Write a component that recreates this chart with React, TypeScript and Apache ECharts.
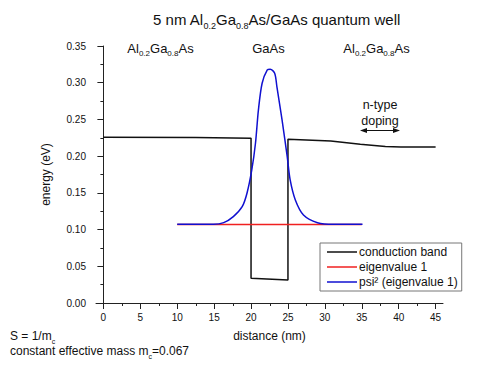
import React, { useEffect, useRef } from "react";
import * as echarts from "echarts";

// conduction band profile (distance nm, energy eV)
const bandX = [0, 12.5, 20, 20, 25, 25, 30.8, 34.8, 38.2, 40.3, 45];
const bandY = [0.2257, 0.2255, 0.2245, 0.0336, 0.0313, 0.223, 0.2207, 0.2162, 0.2132, 0.2125, 0.2125];

// eigenvalue 1
const eigenX = [10, 35];
const eigenY = [0.107, 0.107];

// psi^2 (eigenvalue 1), offset to eigenvalue
const psiX = [10, 14.9, 16.3, 17.6, 18.8, 19.45, 20.1, 20.6, 21.0, 21.5, 22.2, 22.6, 23.2, 23.5, 24.2, 24.9, 25.3, 26.0, 27.1, 29.0, 31.2, 35.1];
const psiY = [0.1072, 0.1072, 0.1094, 0.1176, 0.1312, 0.1495, 0.1812, 0.2176, 0.263, 0.2993, 0.3174, 0.3184, 0.313, 0.2947, 0.2493, 0.1993, 0.1676, 0.1403, 0.1199, 0.1094, 0.1072, 0.1072];

const xMajorTicks = [0, 5, 10, 15, 20, 25, 30, 35, 40, 45];
const xMinorTicks = [2.5, 7.5, 12.5, 17.5, 22.5, 27.5, 32.5, 37.5, 42.5];

const seriesNames = ["conduction band", "eigenvalue 1", "psi\u00b2 (eigenvalue 1)"];

const FONT = "Liberation Sans, Arial, sans-serif";

const zip = (xs: number[], ys: number[]) => xs.map((x, i) => [x, ys[i]]);

const subRich = (size: number, subSize: number, lh: number) => ({
  a: { fontSize: size, fontFamily: FONT, fill: "#111", lineHeight: lh },
  s: { fontSize: subSize, fontFamily: FONT, fill: "#111", verticalAlign: "bottom", lineHeight: lh },
});

export default function App() {
  const ref = useRef<HTMLDivElement>(null);
  useEffect(() => {
    if (!ref.current) return;
    const chart = echarts.init(ref.current, undefined, { renderer: "svg" });
    const staticGraphics: any[] = [
      {
        type: "text",
        x: 276.5,
        y: 19,
        style: {
          text: "{a|5 nm Al}{s|0.2}{a|Ga}{s|0.8}{a|As/GaAs quantum well}",
          rich: subRich(15, 9, 22),
          align: "center",
          verticalAlign: "middle",
        },
      },
      {
        type: "text",
        x: 160.5,
        y: 48,
        style: {
          text: "{a|Al}{s|0.2}{a|Ga}{s|0.8}{a|As}",
          rich: subRich(13, 8, 19),
          align: "center",
          verticalAlign: "middle",
        },
      },
      {
        type: "text",
        x: 268.5,
        y: 48,
        style: { text: "{a|GaAs}", rich: subRich(13, 8, 19), align: "center", verticalAlign: "middle" },
      },
      {
        type: "text",
        x: 376.5,
        y: 48,
        style: {
          text: "{a|Al}{s|0.2}{a|Ga}{s|0.8}{a|As}",
          rich: subRich(13, 8, 19),
          align: "center",
          verticalAlign: "middle",
        },
      },
      {
        type: "text",
        x: 380,
        y: 105,
        style: { text: "n-type", font: `12.5px ${FONT}`, fill: "#111", align: "center", verticalAlign: "middle" },
      },
      {
        type: "text",
        x: 380,
        y: 121,
        style: { text: "doping", font: `12.5px ${FONT}`, fill: "#111", align: "center", verticalAlign: "middle" },
      },
      { type: "line", shape: { x1: 363, y1: 130.5, x2: 397, y2: 130.5 }, style: { stroke: "#111", lineWidth: 1 } },
      { type: "polygon", shape: { points: [[360, 130.5], [367, 128], [367, 133]] }, style: { fill: "#111" } },
      { type: "polygon", shape: { points: [[400, 130.5], [393, 128], [393, 133]] }, style: { fill: "#111" } },
      {
        type: "text",
        x: 10,
        y: 336,
        style: { text: "{a|S = 1/m}{s|c}", rich: subRich(12, 7, 17), align: "left", verticalAlign: "middle" },
      },
      {
        type: "text",
        x: 10,
        y: 351,
        style: {
          text: "{a|constant effective mass m}{s|c}{a|=0.067}",
          rich: subRich(12, 7, 17),
          align: "left",
          verticalAlign: "middle",
        },
      },
    ];
    chart.setOption({
      animation: false,
      backgroundColor: "#fff",
      textStyle: { fontFamily: FONT },
      grid: { left: 96, right: 40, top: 46, bottom: 63, containLabel: false },
      xAxis: {
        type: "value",
        min: -1,
        max: 46,
        name: "distance (nm)",
        nameLocation: "middle",
        nameGap: 27,
        nameTextStyle: { fontSize: 12, color: "#111", fontFamily: FONT },
        axisLine: { show: true, onZero: false, lineStyle: { color: "#222", width: 1 } },
        axisTick: { show: true, length: 6, customValues: xMajorTicks, lineStyle: { color: "#222" } },
        axisLabel: { customValues: xMajorTicks, fontSize: 10, color: "#111", margin: 9, fontFamily: FONT },
        splitLine: { show: false },
      },
      yAxis: {
        type: "value",
        min: 0,
        max: 0.35,
        interval: 0.05,
        name: "energy (eV)",
        nameLocation: "middle",
        nameGap: 44,
        nameTextStyle: { fontSize: 12, color: "#111", fontFamily: FONT },
        axisLine: { show: true, lineStyle: { color: "#222", width: 1 } },
        axisTick: { show: true, length: 6, lineStyle: { color: "#222" } },
        minorTick: { show: true, splitNumber: 2, length: 3, lineStyle: { color: "#222" } },
        axisLabel: {
          fontSize: 10,
          color: "#111",
          margin: 10,
          fontFamily: FONT,
          formatter: (v: number) => v.toFixed(2),
        },
        splitLine: { show: false },
      },
      legend: {
        orient: "vertical",
        left: 320,
        top: 243,
        padding: [3, 4, 3, 7],
        itemGap: 3,
        itemWidth: 30,
        itemHeight: 12,
        borderColor: "#777",
        borderWidth: 1,
        textStyle: { fontSize: 12, color: "#111", fontFamily: FONT, padding: [0, 0, 0, -3] },
        data: seriesNames.map((n) => ({ name: n, icon: "path://M0,0 L30,0 L30,1.5 L0,1.5 Z" })),
      },
      series: [
        {
          name: seriesNames[0],
          type: "line",
          data: zip(bandX, bandY),
          symbol: "none",
          lineStyle: { color: "#111", width: 1.5 },
          itemStyle: { color: "#111" },
        },
        {
          name: seriesNames[1],
          type: "line",
          data: zip(eigenX, eigenY),
          symbol: "none",
          lineStyle: { color: "#f02020", width: 1.5 },
          itemStyle: { color: "#f02020" },
        },
        {
          name: seriesNames[2],
          type: "line",
          data: zip(psiX, psiY),
          symbol: "none",
          smooth: 0.3,
          lineStyle: { color: "#1010d0", width: 1.5 },
          itemStyle: { color: "#1010d0" },
        },
      ],
      graphic: staticGraphics,
    });
    // minor x ticks placed through the axis scale
    const minorTickGraphics = xMinorTicks.map((v) => {
      const p = chart.convertToPixel({ xAxisIndex: 0, yAxisIndex: 0 }, [v, 0]) as number[];
      const x = Math.round(p[0]);
      return {
        type: "rect",
        shape: { x: x, y: Math.round(p[1]), width: 1, height: 3 },
        style: { fill: "#222" },
        z: 10,
      };
    });
    chart.setOption({ graphic: [...staticGraphics, ...minorTickGraphics] });
    return () => chart.dispose();
  }, []);
  return <div ref={ref} style={{ width: 483, height: 366, position: "absolute", left: 0, top: 0 }} />;
}
